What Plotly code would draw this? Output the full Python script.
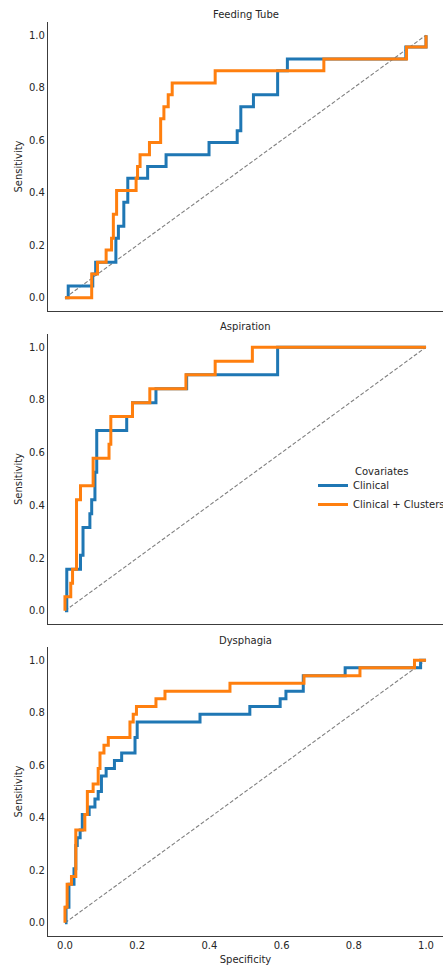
import plotly.graph_objects as go

# ---- data: ROC step vertices (fpr, tpr) – each point = x of vertical step, level after it
panel_titles = ["Feeding Tube", "Aspiration", "Dysphagia"]
series_names = ["Clinical", "Clinical + Clusters"]
tick_vals = [0.0, 0.2, 0.4, 0.6, 0.8, 1.0]
tick_text = ["0.0", "0.2", "0.4", "0.6", "0.8", "1.0"]

feeding_clin_fpr = [0, 0.009, 0.077, 0.085, 0.141, 0.148, 0.163, 0.174, 0.229, 0.28, 0.399, 0.477, 0.487, 0.522, 0.589, 0.616, 0.944, 1.0]
feeding_clin_tpr = [0, 0.045, 0.091, 0.136, 0.227, 0.273, 0.364, 0.455, 0.5, 0.545, 0.591, 0.636, 0.727, 0.773, 0.864, 0.909, 0.955, 1.0]
feeding_clus_fpr = [0, 0.074, 0.09, 0.114, 0.129, 0.134, 0.143, 0.197, 0.201, 0.208, 0.234, 0.265, 0.274, 0.286, 0.297, 0.416, 0.717, 0.946, 1.0]
feeding_clus_tpr = [0, 0.091, 0.136, 0.182, 0.227, 0.318, 0.409, 0.455, 0.5, 0.545, 0.591, 0.682, 0.727, 0.773, 0.818, 0.864, 0.909, 0.955, 1.0]

aspiration_clin_fpr = [0, 0.005, 0.043, 0.05, 0.069, 0.074, 0.083, 0.088, 0.171, 0.187, 0.252, 0.337, 0.589, 1.0]
aspiration_clin_tpr = [0, 0.158, 0.211, 0.316, 0.368, 0.421, 0.526, 0.684, 0.737, 0.789, 0.842, 0.895, 1.0, 1.0]
aspiration_clus_fpr = [0, 0, 0.016, 0.021, 0.032, 0.043, 0.078, 0.122, 0.127, 0.187, 0.235, 0.335, 0.416, 0.519, 1.0]
aspiration_clus_tpr = [0, 0.053, 0.105, 0.158, 0.421, 0.474, 0.579, 0.632, 0.737, 0.789, 0.842, 0.895, 0.947, 1.0, 1.0]

dysphagia_clin_fpr = [0, 0.003, 0.011, 0.025, 0.03, 0.034, 0.042, 0.048, 0.067, 0.083, 0.092, 0.101, 0.114, 0.137, 0.157, 0.194, 0.2, 0.374, 0.512, 0.596, 0.612, 0.66, 0.776, 0.985, 1.0]
dysphagia_clin_tpr = [0, 0.059, 0.147, 0.206, 0.294, 0.324, 0.353, 0.412, 0.441, 0.471, 0.5, 0.559, 0.588, 0.618, 0.647, 0.706, 0.765, 0.794, 0.824, 0.853, 0.882, 0.941, 0.971, 1.0, 1.0]
dysphagia_clus_fpr = [0, 0, 0.006, 0.018, 0.03, 0.055, 0.062, 0.078, 0.092, 0.097, 0.108, 0.12, 0.18, 0.189, 0.198, 0.252, 0.277, 0.457, 0.662, 0.817, 0.968, 1.0]
dysphagia_clus_tpr = [0, 0.059, 0.147, 0.176, 0.353, 0.412, 0.5, 0.529, 0.588, 0.647, 0.676, 0.706, 0.765, 0.794, 0.824, 0.853, 0.882, 0.912, 0.941, 0.971, 1.0, 1.0]

chance_x = [0, 1]
chance_y = [0, 1]

panels = [
    (feeding_clin_fpr, feeding_clin_tpr, feeding_clus_fpr, feeding_clus_tpr),
    (aspiration_clin_fpr, aspiration_clin_tpr, aspiration_clus_fpr, aspiration_clus_tpr),
    (dysphagia_clin_fpr, dysphagia_clin_tpr, dysphagia_clus_fpr, dysphagia_clus_tpr),
]
colors = ["#1f77b4", "#ff7f0e"]

W, H = 443, 971
ML, MR, MT, MB = 48, 0, 22, 35
plot_w = W - ML - MR
plot_h = H - MT - MB
# pixel extents of each panel (top, bottom)
panel_px = [(22, 311), (334, 624), (647, 936)]

def yfrac(px):
    return (H - MB - px) / plot_h

def xfrac(px):
    return (px - ML) / plot_w

fig = go.Figure()
font_fam = "DejaVu Sans, Arial, sans-serif"
txt_col = "#262626"
spine_col = "#3c3c3c"
FS = 10

for i, (cfx, cfy, csx, csy) in enumerate(panels):
    ax = "" if i == 0 else str(i + 1)
    xref, yref = "x" + ax, "y" + ax
    fig.add_trace(go.Scatter(x=chance_x, y=chance_y, mode="lines",
                             line=dict(color="#808080", width=1.1, dash="4px,2px"),
                             showlegend=False, hoverinfo="skip", xaxis=xref, yaxis=yref))
    fig.add_trace(go.Scatter(x=cfx, y=cfy, mode="lines", line_shape="hv",
                             line=dict(color=colors[0], width=3),
                             name=series_names[0], showlegend=(i == 0),
                             legendrank=1, xaxis=xref, yaxis=yref))
    fig.add_trace(go.Scatter(x=csx, y=csy, mode="lines", line_shape="hv",
                             line=dict(color=colors[1], width=3),
                             name=series_names[1], showlegend=(i == 0),
                             legendrank=2, xaxis=xref, yaxis=yref))
    top, bot = panel_px[i]
    last = (i == 2)
    fig.update_layout(**{
        "xaxis" + ax: dict(domain=[0, 1], range=[-0.047, 1.047], anchor=yref,
                           showgrid=False, zeroline=False, showline=True,
                           linecolor=spine_col, linewidth=1.2, ticks="",
                           tickvals=tick_vals, ticktext=tick_text,
                           showticklabels=last,
                           tickfont=dict(family=font_fam, size=FS, color=txt_col),
                           title=dict(text="Specificity" if last else "",
                                      font=dict(family=font_fam, size=FS, color=txt_col),
                                      standoff=5)),
        "yaxis" + ax: dict(domain=[yfrac(bot), yfrac(top)], range=[-0.05, 1.05], anchor=xref,
                           showgrid=False, zeroline=False, showline=True,
                           linecolor=spine_col, linewidth=1.2, ticks="",
                           tickvals=tick_vals, ticktext=tick_text,
                           tickfont=dict(family=font_fam, size=FS, color=txt_col),
                           title=dict(text="Sensitivity",
                                      font=dict(family=font_fam, size=FS, color=txt_col),
                                      standoff=4)),
    })
    fig.add_annotation(text=panel_titles[i], xref="paper", yref="paper",
                       x=0.5, y=yfrac(top - 7), xanchor="center", yanchor="middle",
                       showarrow=False, font=dict(family=font_fam, size=FS, color=txt_col))

fig.add_annotation(text="Covariates", xref="paper", yref="paper",
                   x=xfrac(353), y=yfrac(471), xanchor="left", yanchor="middle",
                   showarrow=False, font=dict(family=font_fam, size=FS, color=txt_col))

fig.update_layout(
    width=W, height=H,
    margin=dict(l=ML, r=MR, t=MT, b=MB, autoexpand=False),
    paper_bgcolor="white", plot_bgcolor="white",
    showlegend=True,
    legend=dict(x=xfrac(313), y=yfrac(495), xanchor="left", yanchor="middle",
                bgcolor="rgba(0,0,0,0)", borderwidth=0,
                font=dict(family=font_fam, size=FS, color=txt_col),
                tracegroupgap=0),
)

fig.write_html("out.html", config={"displayModeBar": False},
               post_script="document.body.style.margin='0px';")
